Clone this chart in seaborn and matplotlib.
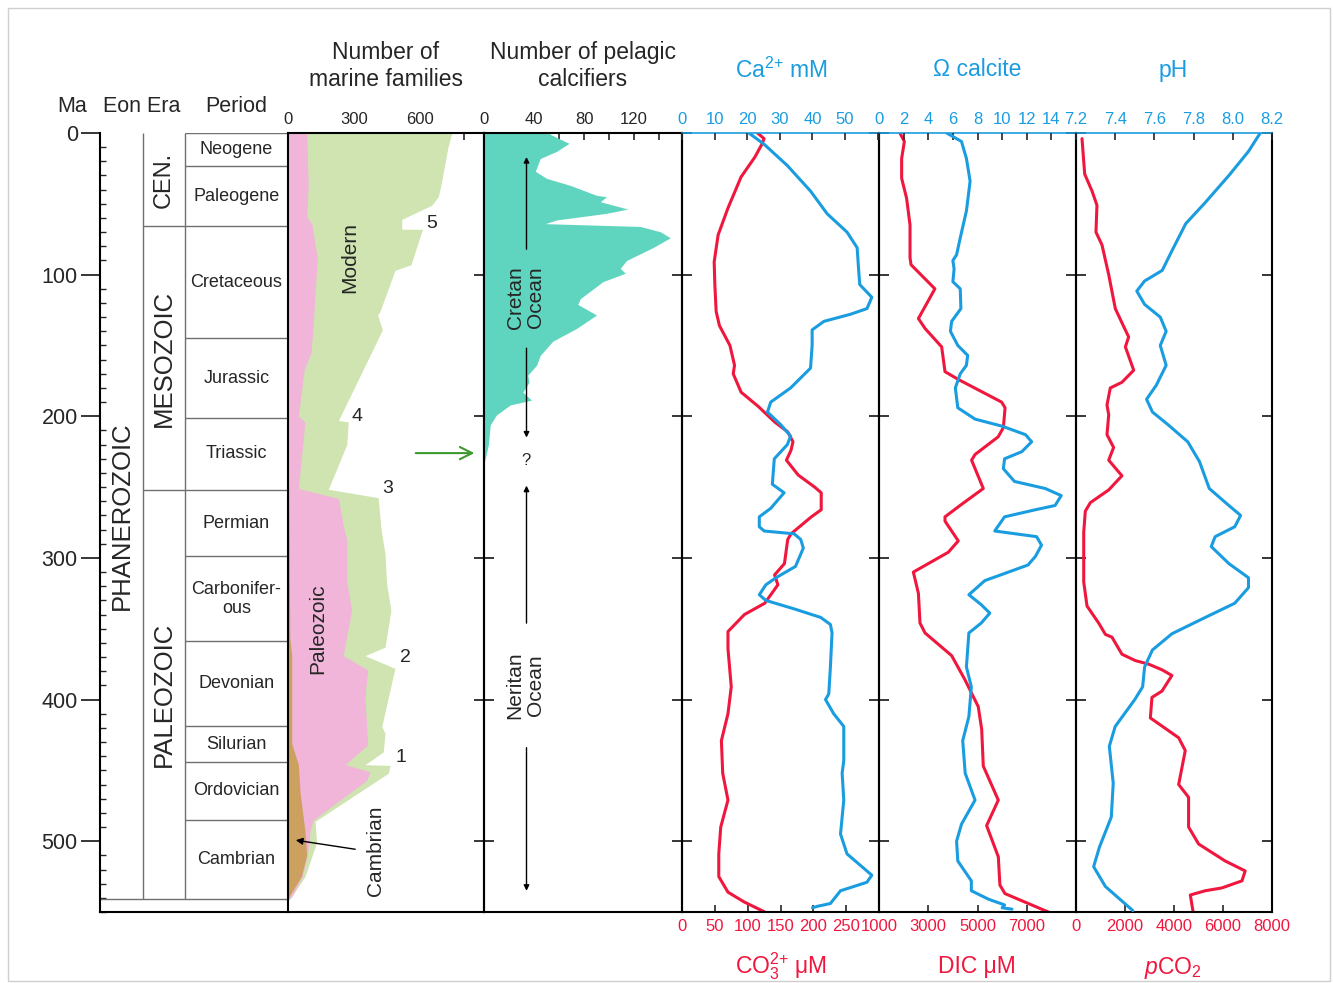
import numpy as np
import pandas as pd
import matplotlib
matplotlib.use("Agg")
import matplotlib.pyplot as plt
from matplotlib.patches import Rectangle
import seaborn as sns

sns.set_style("white")
plt.rcParams['font.family'] = ['Liberation Sans', 'DejaVu Sans']
plt.rcParams['mathtext.fontset'] = 'custom'
plt.rcParams['mathtext.rm'] = 'Liberation Sans'
plt.rcParams['mathtext.it'] = 'Liberation Sans:italic'
plt.rcParams['mathtext.bf'] = 'Liberation Sans:bold'

BLUE = '#1a9de0'
RED = '#f0173e'
GREEN = '#cfe4b1'
PINK = '#f0b5d9'
BROWN = '#cca05e'
TEAL = '#5fd4be'

# ---------------- data ----------------
periods = ["Neogene", "Paleogene", "Cretaceous", "Jurassic", "Triassic", "Permian",
           "Carbonifer-\nous", "Devonian", "Silurian", "Ordovician", "Cambrian"]
period_bounds = [0, 23, 66, 145, 201, 252, 299, 359, 419, 444, 485, 541]
eras = ["CEN.", "MESOZOIC", "PALEOZOIC"]
era_bounds = [0, 66, 252, 541]
eon = "PHANEROZOIC"
eon_bounds = [0, 541]

# marine families (outer edges of the layered areas)
fam_total_age = [0, 10, 37, 45, 51, 61, 67.9, 68, 93, 97, 126, 128.5, 139, 203, 204, 220,
                 251.5, 257.5, 277, 282, 297, 318, 337, 363, 369, 378, 419, 424, 437,
                 446, 446.5, 452, 486, 501, 525, 541]
fam_total = [745, 727, 695, 683, 653, 517, 517, 611, 559, 486, 418, 407, 429, 229, 274, 267,
             183, 410, 421, 425, 441, 448, 468, 441, 350, 486, 426, 441, 433,
             350, 464, 456, 123, 130, 77, 9]
fam_paleo_age = [0, 37, 59, 64, 88, 134, 155, 167, 200, 204, 251, 258, 277, 287, 316, 337,
                 369, 379, 398, 432, 446, 451, 457, 485, 493, 508, 525, 539, 541]
fam_paleo = [85, 92, 85, 108, 133, 115, 105, 74, 47, 77, 47, 229, 251, 267, 267, 289,
             251, 362, 350, 362, 259, 373, 358, 115, 100, 90, 65, 17, 0]
fam_cambrian_age = [250, 300, 356, 369, 431, 446, 466, 493, 510, 525, 538, 541]
fam_cambrian = [3, 6, 8, 17, 17, 47, 55, 77, 85, 60, 9, 0]

# pelagic calcifiers
pel_age = [0, 1.4, 7.3, 13, 18, 27, 32, 37, 44, 45, 48.5, 53.7, 56.7, 61.4, 64, 66, 69.7, 74,
           81, 90, 95.6, 99, 105, 117, 121, 128.5, 138, 147, 157, 164, 171, 176, 183, 188.6,
           192, 199, 206, 220, 230, 233]
pel = [52, 54, 68, 58, 45, 41, 50, 69, 90, 98, 93, 115, 98, 58, 49, 125, 141, 149,
       135, 114, 109, 113, 95, 77, 75, 90, 74, 55, 45, 42, 35, 36, 31, 38,
       21, 10, 5, 3.5, 1, 0]

# Ca2+ (mM)
ca_age = [0, 8, 23, 41, 57, 70, 81, 98, 107, 116, 124, 128, 133, 139, 150, 166, 180, 190, 197,
          206, 214, 220, 230, 248, 254, 265, 271, 278, 281, 283, 287, 293, 306, 314, 319, 326,
          330, 336, 342, 347, 353, 377, 396, 400, 410, 419, 443, 452, 471, 495, 509, 524, 529,
          535, 544, 546, 547]
ca = [20.5, 25.2, 32.3, 39.4, 44.5, 50.6, 53.7, 54.2, 54.5, 58.2, 56.7, 51.6, 43.5, 39.9, 39.9,
      39.4, 33.3, 27.2, 26.2, 30.3, 33.3, 32.3, 28.3, 27.7, 31.3, 27.2, 23.7, 23.7, 25.2, 34.4,
      36.4, 37.2, 34.8, 28.8, 25.7, 23.7, 25.7, 34.4, 42.5, 45.5, 46.0, 45.5, 45.0, 44.0, 46.5,
      49.6, 49.6, 49.1, 49.6, 48.6, 50.6, 58.2, 56.7, 48.6, 45.5, 41.5, 40]

# CO3 (uM)
co3_age = [0, 4, 8.5, 17, 31, 53, 72, 91, 107, 126, 136, 150, 164, 170, 183, 193, 204, 211, 218,
           224, 231, 241.5, 250, 254, 266, 271, 283, 287, 304, 312, 319, 332, 340, 352, 364, 391,
           410, 429, 452, 471, 490, 509, 525, 536, 543, 550]
co3 = [115, 125, 121, 111, 90, 70, 55, 49, 50, 52, 57, 73, 80, 78, 90, 116, 141, 161, 169,
       166, 159, 177, 202, 212, 212, 197, 166, 161, 156, 141, 146, 126, 95, 70, 70, 75,
       70, 60, 62, 70, 59, 56, 56, 70, 95, 126]

# Omega calcite
om_age = [0, 6, 18, 34, 55, 74, 86, 90, 96, 105, 110, 124, 133, 140, 150, 157, 164, 170, 180,
          194, 202, 207, 213, 218, 225, 230, 237, 246, 251, 256, 263, 266, 271, 276, 281, 285,
          291, 299, 305, 311, 316, 326, 333, 339, 346, 353, 377, 391, 412, 429, 452, 471, 488,
          500, 514, 528, 535, 541, 545, 547, 548]
om = [5.5, 6.7, 7.1, 7.4, 7.1, 6.6, 6.3, 6.0, 6.1, 6.0, 6.6, 6.65, 5.9, 5.8, 6.4, 7.2, 7.1,
      6.6, 6.2, 6.4, 7.8, 10.0, 11.9, 12.4, 11.6, 10.2, 10.1, 11.0, 13.5, 14.8, 14.3, 12.7,
      10.2, 9.8, 9.4, 12.8, 13.2, 12.7, 12.1, 10.2, 8.6, 7.3, 8.3, 9.0, 8.3, 7.3, 7.1, 7.5,
      7.3, 6.8, 7.0, 7.8, 6.7, 6.3, 6.4, 7.5, 7.5, 8.9, 10.2, 10.0, 10.8]

# DIC (uM)
dic_age = [0, 6, 18, 32, 46, 65, 88, 93, 110, 131, 138, 151, 168.5, 174, 190, 194, 208, 214.5,
           227, 231, 251, 263, 271, 274, 288, 296, 310, 325, 346, 353, 369, 386, 405, 421, 447,
           471, 489, 511, 531, 537, 551]
dic = [1850, 2030, 1920, 1920, 2120, 2260, 2260, 2300, 3270, 2600, 2870, 3545, 3680, 4220,
       5980, 6120, 6050, 5840, 4900, 4760, 5235, 4290, 3680, 3680, 4220, 3815, 2395, 2600,
       2665, 2870, 3950, 4490, 5030, 5170, 5235, 5845, 5370, 5845, 5910, 6115, 8010]

# pH
ph_age = [0, 13, 30, 49, 64, 83, 97, 104.5, 111.6, 121, 130, 140, 150, 164, 178, 188, 197, 206,
          218, 232, 251, 263, 270, 278, 285, 292, 304, 314, 321, 332, 342, 353.5, 365, 377, 391,
          400, 419, 433, 459, 483, 504, 518, 532, 549]
ph = [8.14, 8.08, 7.98, 7.86, 7.76, 7.69, 7.64, 7.55, 7.51, 7.55, 7.63, 7.66, 7.63, 7.66, 7.61,
      7.56, 7.59, 7.67, 7.77, 7.83, 7.88, 7.98, 8.04, 8.01, 7.91, 7.89, 7.98, 8.08, 8.08, 8.01,
      7.86, 7.69, 7.59, 7.55, 7.54, 7.50, 7.40, 7.37, 7.39, 7.38, 7.32, 7.29, 7.35, 7.49]

# pCO2
pco2_age = [4, 29, 41, 51, 70, 79, 100, 124, 134, 144, 151, 167.5, 176, 180, 192, 199, 213, 222,
            231, 242, 252, 261, 267, 282, 317, 334, 346, 354, 356, 368, 372.5, 375, 379, 383,
            394, 398.5, 413, 422, 427, 436, 460, 469, 490, 502, 514, 521, 528, 533, 535, 538,
            552]
pco2 = [245, 355, 655, 855, 815, 1060, 1335, 1605, 1875, 2150, 2015, 2355, 1875, 1400, 1265,
        1335, 1265, 1535, 1335, 1875, 1335, 585, 380, 315, 315, 450, 925, 1200, 1470, 1875,
        2420, 2965, 3510, 3915, 3510, 3100, 3035, 3780, 4190, 4460, 4190, 4595, 4595, 5005,
        6090, 6905, 6775, 5955, 5275, 4665, 4800]

# ---------------- figure ----------------
W, H = 1333, 983
fig = plt.figure(figsize=(W / 100, H / 100), dpi=100)
fig.patches.append(Rectangle((8 / W, 1 - 981 / H), (1322 / W), (973 / H), transform=fig.transFigure,
                             fill=False, edgecolor='#cfcfcf', lw=1))


def rect(x0, x1, y0=133, y1=912):
    return [x0 / W, 1 - y1 / H, (x1 - x0) / W, (y1 - y0) / H]


ax_ts = fig.add_axes(rect(100, 288))
ax_fam = fig.add_axes(rect(288, 484))
ax_pel = fig.add_axes(rect(484, 682))
ax_ca = fig.add_axes(rect(682, 879))
ax_om = fig.add_axes(rect(879, 1076))
ax_ph = fig.add_axes(rect(1076, 1272))

YMAX = 550
TICKFS = 12

# ---- timescale ----
ax_ts.set_xlim(0, 1)
ax_ts.set_ylim(YMAX, 0)
for s in ['top', 'right']:
    ax_ts.spines[s].set_visible(False)
for s in ['left', 'bottom']:
    ax_ts.spines[s].set_color('black')
    ax_ts.spines[s].set_linewidth(1.5)
ax_ts.set_xticks([])
ax_ts.set_yticks(range(0, 501, 100))
ax_ts.set_yticks(range(0, 551, 10), minor=True)
ax_ts.tick_params(axis='y', which='major', direction='out', length=14, width=1.3,
                  labelsize=15.5, pad=2, left=True)
ax_ts.tick_params(axis='y', which='minor', direction='in', length=4, width=1, left=True)
XE, XR = 0.229, 0.452
LC = '#707070'
ax_ts.vlines([XE, XR], 0, 541, color=LC, lw=1)
ax_ts.hlines(541, 0, 1, color=LC, lw=1)
ax_ts.hlines(era_bounds[1:-1], XE, XR, color=LC, lw=1)
ax_ts.hlines(period_bounds[:-1], XR, 1, color=LC, lw=1)
for name, a, b in zip(periods, period_bounds[:-1], period_bounds[1:]):
    ax_ts.text((XR + 1) / 2, (a + b) / 2, name, ha='center', va='center', fontsize=13,
               linespacing=1.15)
for name, a, b in zip(eras, era_bounds[:-1], era_bounds[1:]):
    ax_ts.text((XE + XR) / 2, (a + b) / 2, name, ha='center', va='center', rotation=90,
               fontsize=18.5 if name != "CEN." else 17)
ax_ts.text(XE / 2, (eon_bounds[0] + eon_bounds[1]) / 2, eon, ha='center', va='center',
           rotation=90, fontsize=18.5)
ax_ts.set_ylabel('')

# ---- common style for data panels ----
data_axes = [ax_fam, ax_pel, ax_ca, ax_om, ax_ph]
for ax in data_axes:
    ax.set_ylim(YMAX, 0)
    ax.set_yticks(range(0, 501, 100))
    ax.tick_params(axis='y', left=True, right=True, direction='in', length=7, width=1.3,
                   labelleft=False, labelright=False)
    for s in ax.spines.values():
        s.set_color('black')
        s.set_linewidth(1.5)
    ax.set_facecolor('none')
ax_fam.tick_params(axis='y', left=False)

# ---- marine families ----
ax_fam.set_xlim(0, 891)
ax_fam.fill_betweenx(fam_total_age, 0, fam_total, color=GREEN, lw=0)
ax_fam.fill_betweenx(fam_paleo_age, 0, fam_paleo, color=PINK, lw=0)
ax_fam.fill_betweenx(fam_cambrian_age, 0, fam_cambrian, color=BROWN, lw=0)
ax_fam.set_xticks(range(0, 900, 100))
ax_fam.set_xticklabels(['0', '', '', '300', '', '', '600', '', ''])
ax_fam.tick_params(axis='x', top=True, bottom=False, labeltop=True, labelbottom=False,
                   direction='in', length=5, width=1.2, labelsize=TICKFS, pad=4)
ax_fam.text(282, 88, "Modern", rotation=90, ha='center', va='center', fontsize=15)
ax_fam.text(136, 350, "Paleozoic", rotation=90, ha='center', va='center', fontsize=15)
ax_fam.text(400, 507, "Cambrian", rotation=90, ha='center', va='center', fontsize=15)
for lab, xx, yy in [("5", 654, 64), ("4", 314, 200), ("3", 454, 251), ("2", 532, 370),
                    ("1", 514, 441)]:
    ax_fam.text(xx, yy, lab, ha='center', va='center', fontsize=14)
ax_fam.annotate("", xy=(23, 499), xytext=(318, 506),
                arrowprops=dict(arrowstyle='-|>', color='black', lw=1, mutation_scale=10))
ax_fam.annotate("", xy=(860, 226), xytext=(568, 226),
                arrowprops=dict(arrowstyle='->', color='#3f9a2d', lw=1.5, mutation_scale=22))

# ---- pelagic calcifiers ----
ax_pel.set_xlim(0, 158.4)
ax_pel.fill_betweenx(pel_age, 0, pel, color=TEAL, lw=0)
ax_pel.set_xticks(range(0, 160, 20))
ax_pel.set_xticklabels(['0', '', '40', '', '80', '', '120', ''])
ax_pel.tick_params(axis='x', top=True, bottom=False, labeltop=True, labelbottom=False,
                   direction='in', length=5, width=1.2, labelsize=TICKFS, pad=4)
XA = 34
arr = dict(arrowstyle='-|>', color='black', lw=1, mutation_scale=8)
ax_pel.annotate("", xy=(XA, 15), xytext=(XA, 84), arrowprops=arr)
ax_pel.annotate("", xy=(XA, 217), xytext=(XA, 150), arrowprops=arr)
ax_pel.text(XA - 1, 116, "Cretan\nOcean", rotation=90, ha='center', va='center', fontsize=15,
            linespacing=1.1)
ax_pel.text(XA, 231, "?", ha='center', va='center', fontsize=12)
ax_pel.annotate("", xy=(XA, 247), xytext=(XA, 348), arrowprops=arr)
ax_pel.annotate("", xy=(XA, 537), xytext=(XA, 432), arrowprops=arr)
ax_pel.text(XA - 1, 390, "Neritan\nOcean", rotation=90, ha='center', va='center',
            fontsize=15, linespacing=1.1)


# ---- helper for dual panels ----
def dual_panel(ax, bottom_lim, top_lim, b_age, b_val, t_age, t_val,
               b_ticks, b_labels, t_ticks, t_labels):
    axt = ax.twiny()
    ax.set_xlim(*bottom_lim)
    axt.set_xlim(*top_lim)
    axt.set_ylim(YMAX, 0)
    sns.lineplot(x=b_val, y=b_age, orient='y', estimator=None, sort=True, color=RED,
                 lw=2.2, ax=ax)
    sns.lineplot(x=t_val, y=t_age, orient='y', estimator=None, sort=True, color=BLUE,
                 lw=2.2, ax=axt)
    ax.set_ylim(YMAX, 0)
    ax.set_xlabel('')
    ax.set_ylabel('')
    axt.set_xlabel('')
    axt.set_ylabel('')
    ax.set_xticks(b_ticks)
    ax.set_xticklabels(b_labels)
    ax.tick_params(axis='x', bottom=True, top=False, labelbottom=True, labeltop=False,
                   direction='in', length=5, width=1.2, labelsize=TICKFS, labelcolor=RED,
                   pad=5)
    axt.set_xticks(t_ticks)
    axt.set_xticklabels(t_labels)
    axt.tick_params(axis='x', top=True, bottom=False, labeltop=True, labelbottom=False,
                    direction='in', length=5, width=1.2, labelsize=TICKFS, labelcolor=BLUE,
                    pad=4)
    for s in axt.spines.values():
        s.set_visible(False)
    ax.spines['top'].set_color(BLUE)
    ax.spines['top'].set_linewidth(1.2)
    return axt


dual_panel(ax_ca, (0, 300), (0, 60.4), co3_age, co3, ca_age, ca,
           list(range(0, 301, 50)), ['0', '50', '100', '150', '200', '250', ''],
           list(range(0, 61, 10)), ['0', '10', '20', '30', '40', '50', ''])
dual_panel(ax_om, (1000, 9000), (0, 16), dic_age, dic, om_age, om,
           [1000, 3000, 5000, 7000, 9000], ['1000', '3000', '5000', '7000', ''],
           list(range(0, 17, 2)), ['0', '2', '4', '6', '8', '10', '12', '14', ''])
dual_panel(ax_ph, (0, 8000), (7.2, 8.2), pco2_age, pco2, ph_age, ph,
           [0, 2000, 4000, 6000, 8000], ['0', '2000', '4000', '6000', '8000'],
           [7.2, 7.4, 7.6, 7.8, 8.0, 8.2], ['7.2', '7.4', '7.6', '7.8', '8.0', '8.2'])

# ---- headers ----
def ft(xp, yp, s, **kw):
    fig.text(xp / W, 1 - yp / H, s, ha='center', va='center', **kw)


ft(386, 66, "Number of\nmarine families", fontsize=16.5, linespacing=1.25)
ft(583, 66, "Number of pelagic\ncalcifiers", fontsize=16.5, linespacing=1.25)
ft(781, 70, r"Ca$^{2{+}}$ mM", fontsize=16.5, color=BLUE)
ft(977, 70, "Ω calcite", fontsize=16.5, color=BLUE)
ft(1173, 70, "pH", fontsize=16.5, color=BLUE)
ft(72, 106, "Ma", fontsize=15.5)
ft(142, 106, "Eon Era", fontsize=15.5)
ft(236, 106, "Period", fontsize=15.5)
ft(781, 966, r"CO$_3^{2{+}}$ μM", fontsize=16.5, color=RED)
ft(977, 966, "DIC μM", fontsize=16.5, color=RED)
ft(1173, 968, "$p$CO$_2$", fontsize=16.5, color=RED)

fig.savefig("out.png", dpi=100)
